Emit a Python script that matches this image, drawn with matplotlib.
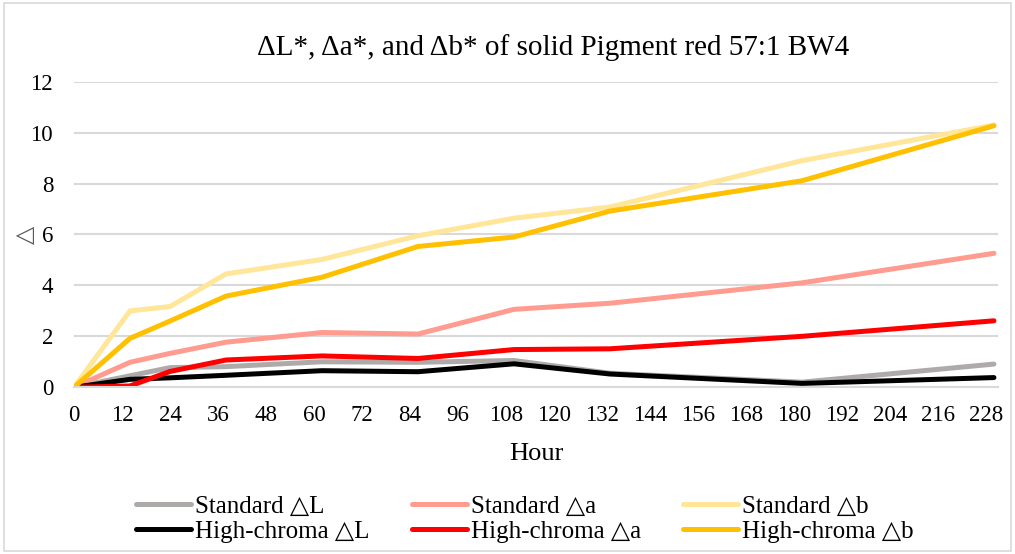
import matplotlib.pyplot as plt
from matplotlib.patches import Rectangle

# Data
hours = [0, 14, 24, 38, 62, 86, 110, 134, 182, 230]
std_L = [0, 0.45, 0.77, 0.81, 1.00, 0.98, 1.05, 0.55, 0.20, 0.91]
std_a = [0, 0.98, 1.33, 1.77, 2.15, 2.09, 3.06, 3.30, 4.10, 5.26]
std_b = [0, 3.00, 3.17, 4.45, 5.02, 5.95, 6.64, 7.08, 8.90, 10.30]
hc_L = [0, 0.31, 0.37, 0.47, 0.65, 0.61, 0.92, 0.52, 0.15, 0.38]
hc_a = [0, 0.05, 0.62, 1.07, 1.23, 1.13, 1.48, 1.51, 2.00, 2.61]
hc_b = [0, 1.92, 2.60, 3.58, 4.32, 5.53, 5.90, 6.92, 8.11, 10.27]

names = ["Standard △L", "Standard △a", "Standard △b",
         "High-chroma △L", "High-chroma △a", "High-chroma △b"]
series = [std_L, std_a, std_b, hc_L, hc_a, hc_b]
colors = ["#AEAAAA", "#FF9B8F", "#FFE699", "#000000", "#FF0000", "#FFC000"]

plt.rcParams['font.family'] = ['Liberation Serif', 'DejaVu Serif']

fig = plt.figure(figsize=(10.15, 5.54), dpi=100)
ax = fig.add_axes([0.0729, 0.301, 0.9103, 0.5515])

lines = []
for vals, name, c in zip(series, names, colors):
    ln, = ax.plot(hours, vals, color=c, linewidth=3.6, label=name,
                  solid_capstyle='round', solid_joinstyle='round')
    lines.append(ln)

ax.set_xlim(0, 231)
ax.set_ylim(0, 12)
ax.set_xticks(range(0, 229, 12))
ax.set_yticks(range(0, 13, 2))
ax.tick_params(length=0, labelsize=16.5, colors='#000000')
ax.tick_params(axis='y', pad=15)
ax.tick_params(axis='x', pad=13)
ax.grid(axis='y', color='#D9D9D9', linewidth=1.5)
ax.set_axisbelow(True)
for s in ['top', 'right', 'left']:
    ax.spines[s].set_visible(False)
ax.spines['bottom'].set_color('#D9D9D9')
ax.spines['bottom'].set_linewidth(1.5)

ax.set_xlabel("Hour", fontsize=19, labelpad=12)
ax.set_ylabel("△", fontsize=17, color='#595959')
ax.yaxis.set_label_coords(-0.040, 0.5)

fig.text(0.545, 0.915, "ΔL*, Δa*, and Δb* of solid Pigment red 57:1 BW4",
         ha='center', va='center', fontsize=21)

# legend fills column by column, so reorder to show rows as in the chart
order = [0, 3, 1, 4, 2, 5]
fig.legend([lines[i] for i in order], [names[i] for i in order],
           loc='center', bbox_to_anchor=(0.517, 0.063), ncol=3,
           frameon=False, fontsize=18, handlelength=2.2, handletextpad=0.16,
           columnspacing=1.7, labelspacing=0.12)

fig.add_artist(Rectangle((0.004, 0.006), 0.992, 0.988, transform=fig.transFigure,
                         fill=False, edgecolor='#D9D9D9', linewidth=1.2))

plt.savefig('out.png')
